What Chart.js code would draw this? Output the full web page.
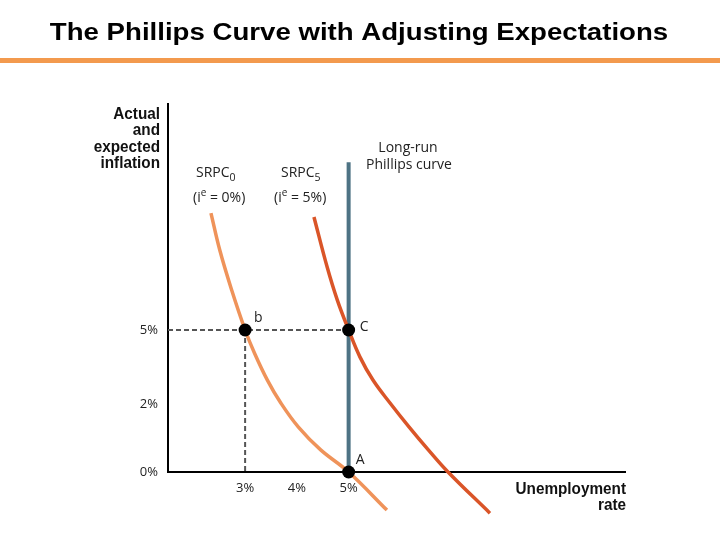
<!DOCTYPE html>
<html>
<head>
<meta charset="utf-8">
<script src="https://cdn.jsdelivr.net/npm/chart.js@4.4.1/dist/chart.umd.min.js"></script>
<style>
  html, body { margin: 0; padding: 0; background: #fff; }
  #wrap { width: 720px; height: 540px; position: relative; }
</style>
</head>
<body>
<div id="wrap"><canvas id="c" width="720" height="540"></canvas></div>
<script>
// ---------- DATA ----------
const chartTitle = 'The Phillips Curve with Adjusting Expectations';
const xTickValues = [3, 4, 5];          // unemployment rate, %
const yTickValues = [0, 2, 5];          // inflation, %
const yAxisTitle = ['Actual', 'and', 'expected', 'inflation'];
const xAxisTitle = ['Unemployment', 'rate'];
// Short-run Phillips curve with expected inflation 0%
const srpc0X = [2.34, 2.51, 2.74, 3.0, 3.18, 3.43, 3.69, 4.03, 4.46, 5.0, 5.74];
const srpc0Y = [9.74, 8.24, 6.62, 5.0, 4.07, 2.97, 2.04, 1.32, 0.65, 0.0, -1.12];
// Short-run Phillips curve with expected inflation 5%
const srpc5X = [4.33, 4.585, 4.78, 5.0, 5.22, 5.47, 5.80, 6.17, 6.54, 6.92, 7.73];
const srpc5Y = [9.58, 7.55, 6.22, 5.0, 3.9, 2.97, 2.04, 1.32, 0.65, 0.0, -1.21];
// Long-run Phillips curve (natural rate)
const lrpcX = [5, 5];
const lrpcY = [0, 11.8];
// Equilibrium points
const pointNames = ['b', 'C', 'A'];
const pointX = [3, 5, 5];
const pointY = [5, 5, 0];
// Axis ranges
const xMin = 1.51, xMax = 10.34;
const yMin = 0, yMax = 14.16;

// ---------- SCALE (axis drawn compressed above 2%) ----------
const BREAK_AT = 2, COMPRESS = 0.7255;
class BrokenScale extends Chart.LinearScale {
  tf(v) { return v <= BREAK_AT ? v : BREAK_AT + (v - BREAK_AT) * COMPRESS; }
  itf(t) { return t <= BREAK_AT ? t : BREAK_AT + (t - BREAK_AT) / COMPRESS; }
  getPixelForValue(value) {
    if (value === null || value === undefined || isNaN(value)) return NaN;
    const a = this.tf(this.min), c = this.tf(this.max);
    return this.getPixelForDecimal((this.tf(value) - a) / (c - a));
  }
  getValueForPixel(pixel) {
    const a = this.tf(this.min), c = this.tf(this.max);
    return this.itf(a + this.getDecimalForPixel(pixel) * (c - a));
  }
}
BrokenScale.id = 'broken';
BrokenScale.defaults = Chart.LinearScale.defaults;
Chart.register(BrokenScale);

const zip = (xs, ys) => xs.map((x, i) => ({ x, y: ys[i] }));

const labelFont = '"Open Sans", "Noto Sans", sans-serif';
const boldFont = '"Liberation Sans", Arial, sans-serif';

function scaledText(ctx, text, x, y, sx, align) {
  ctx.save();
  ctx.translate(x, y);
  ctx.scale(sx, 1);
  ctx.textAlign = align;
  ctx.fillText(text, 0, 0);
  ctx.restore();
}

const decorPlugin = {
  id: 'decor',
  beforeDraw(chart) {
    const ctx = chart.ctx;
    ctx.save();
    ctx.fillStyle = '#ffffff';
    ctx.fillRect(0, 0, chart.width, chart.height);
    // title
    ctx.fillStyle = '#000';
    ctx.font = 'bold 23.5px ' + boldFont;
    ctx.textBaseline = 'alphabetic';
    scaledText(ctx, chartTitle, chart.width / 2 - 1, 39.5, 1.175, 'center');
    // rule under title
    ctx.fillStyle = '#F39A4E';
    ctx.fillRect(0, 58, chart.width, 5);
    ctx.restore();
  },
  afterDraw(chart) {
    const ctx = chart.ctx;
    const xs = chart.scales.x, ys = chart.scales.y;
    const ca = chart.chartArea;
    ctx.save();
    // axis titles
    ctx.fillStyle = '#111';
    ctx.textBaseline = 'middle';
    ctx.font = 'bold 17px ' + boldFont;
    yAxisTitle.forEach((t, i) => {
      scaledText(ctx, t, ca.left - 8, ca.top + 10 + i * 16.6, 0.9, 'right');
    });
    xAxisTitle.forEach((t, i) => {
      scaledText(ctx, t, ca.right + 1, ca.bottom + 17 + i * 16.5, 0.9, 'right');
    });

    ctx.fillStyle = '#222';
    ctx.textBaseline = 'alphabetic';
    ctx.textAlign = 'left';
    // curve labels with sub/superscripts
    function sub(main, s, x, y) {
      ctx.font = '14px ' + labelFont;
      ctx.fillText(main, x, y);
      const w = ctx.measureText(main).width;
      ctx.font = '10.5px ' + labelFont;
      ctx.fillText(s, x + w, y + 4);
    }
    function sup(val, x, y) {
      ctx.font = '14px ' + labelFont;
      ctx.fillText('(i', x, y);
      const w = ctx.measureText('(i').width;
      ctx.font = '10px ' + labelFont;
      ctx.fillText('e', x + w, y - 6);
      const w2 = ctx.measureText('e').width;
      ctx.font = '14px ' + labelFont;
      ctx.fillText(' = ' + val + ')', x + w + w2, y);
    }
    sub('SRPC', '0', 196, 177);
    sup('0%', 193, 202);
    sub('SRPC', '5', 281, 177);
    sup('5%', 274, 202);
    ctx.textAlign = 'center';
    ctx.font = '14px ' + labelFont;
    ctx.fillText('Long-run', 408, 152);
    ctx.fillText('Phillips curve', 409, 169);

    // point labels
    ctx.textAlign = 'left';
    ctx.font = '14px ' + labelFont;
    const offs = [[9, -8], [11, 1], [7, -8]];
    pointNames.forEach((n, i) => {
      const px = xs.getPixelForValue(pointX[i]);
      const py = ys.getPixelForValue(pointY[i]);
      ctx.fillText(n, px + offs[i][0], py + offs[i][1]);
    });
    ctx.restore();
  }
};

new Chart(document.getElementById('c'), {
  type: 'scatter',
  data: {
    datasets: [
      {
        label: 'points',
        data: zip(pointX, pointY),
        showLine: false,
        pointRadius: 6.5,
        pointBackgroundColor: '#000',
        pointBorderColor: '#000',
        pointBorderWidth: 0,
        clip: false,
        order: 0
      },
      {
        label: 'SRPC0',
        data: zip(srpc0X, srpc0Y),
        showLine: true,
        borderColor: '#EF935A',
        borderWidth: 3.5,
        pointRadius: 0,
        tension: 0.4,
        clip: false,
        order: 1
      },
      {
        label: 'SRPC5',
        data: zip(srpc5X, srpc5Y),
        showLine: true,
        borderColor: '#DA5528',
        borderWidth: 3.5,
        pointRadius: 0,
        tension: 0.4,
        clip: false,
        order: 1
      },
      {
        label: 'LRPC',
        data: zip(lrpcX, lrpcY),
        showLine: true,
        borderColor: '#4E7384',
        borderWidth: 4,
        pointRadius: 0,
        clip: false,
        order: 2
      },
      {
        label: 'dash h',
        data: [{ x: xMin, y: pointY[0] }, { x: pointX[1], y: pointY[1] }],
        showLine: true,
        borderColor: '#555',
        borderWidth: 2,
        borderDash: [5, 3],
        pointRadius: 0,
        order: 3
      },
      {
        label: 'dash v',
        data: [{ x: pointX[0], y: pointY[0] }, { x: pointX[0], y: yMin }],
        showLine: true,
        borderColor: '#555',
        borderWidth: 2,
        borderDash: [5, 3],
        pointRadius: 0,
        order: 3
      }
    ]
  },
  options: {
    responsive: false,
    animation: false,
    devicePixelRatio: 1,
    layout: { padding: { left: 0, right: 95, top: 104, bottom: 0 } },
    plugins: {
      legend: { display: false },
      tooltip: { enabled: false },
      title: { display: false }
    },
    scales: {
      x: {
        type: 'linear',
        min: xMin,
        max: xMax,
        afterBuildTicks: (s) => { s.ticks = xTickValues.map(v => ({ value: v })); },
        afterFit: (s) => { s.height = 68; },
        grid: { display: false, drawTicks: false },
        border: { display: true, color: '#000', width: 2 },
        ticks: {
          padding: 8,
          color: '#222',
          font: { family: labelFont, size: 13 },
          callback: (v) => v + '%',
          maxRotation: 0
        }
      },
      y: {
        type: 'broken',
        min: yMin,
        max: yMax,
        afterBuildTicks: (s) => { s.ticks = yTickValues.map(v => ({ value: v })); },
        afterFit: (s) => { s.width = 168; },
        grid: { display: false, drawTicks: false },
        border: { display: true, color: '#000', width: 2 },
        ticks: {
          padding: 10,
          color: '#222',
          font: { family: labelFont, size: 13 },
          callback: (v) => v + '%'
        }
      }
    }
  },
  plugins: [decorPlugin]
});
</script>
</body>
</html>
